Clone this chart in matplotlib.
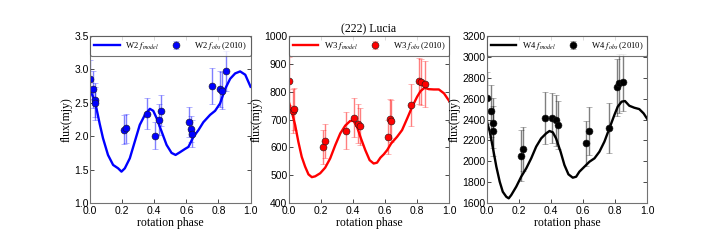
import numpy as np
import matplotlib as mpl
mpl.use('Agg')
import matplotlib.pyplot as plt

# observed points (2010)
w2_phase = [0.0, 0.021, 0.031, 0.033, 0.211, 0.226, 0.356, 0.402, 0.427, 0.444,
            0.617, 0.632, 0.633, 0.762, 0.808, 0.824, 0.849]
w2_flux = [2.85, 2.70, 2.54, 2.49, 2.10, 2.12, 2.34, 2.01, 2.25, 2.38,
           2.21, 2.11, 2.04, 2.75, 2.71, 2.68, 2.98]
w2_err = [0.29, 0.28, 0.25, 0.25, 0.22, 0.22, 0.23, 0.20, 0.23, 0.23,
          0.22, 0.20, 0.20, 0.27, 0.27, 0.28, 0.30]

w3_phase = [0.0, 0.029, 0.035, 0.212, 0.229, 0.354, 0.404, 0.429, 0.444,
            0.619, 0.631, 0.634, 0.762, 0.810, 0.825, 0.850]
w3_flux = [838, 731, 738, 601, 623, 660, 707, 684, 675,
           637, 703, 695, 752, 838, 835, 828]
w3_err = [87, 78, 76, 60, 62, 66, 70, 70, 67,
          60, 70, 75, 74, 84, 82, 82]

w4_phase = [0.0, 0.029, 0.037, 0.042, 0.215, 0.229, 0.360, 0.406, 0.430, 0.445,
            0.621, 0.635, 0.762, 0.810, 0.824, 0.849]
w4_flux = [2609, 2481, 2291, 2364, 2053, 2117, 2417, 2411, 2392, 2347,
           2171, 2289, 2318, 2708, 2746, 2756]
w4_err = [250, 250, 240, 240, 246, 214, 249, 239, 242, 233,
          218, 227, 237, 276, 279, 274]

# model curves
w2_mphase = [0.0, 0.019, 0.04, 0.06, 0.081, 0.112, 0.144, 0.175, 0.196, 0.217,
             0.248, 0.279, 0.31, 0.342, 0.373, 0.394, 0.415, 0.446, 0.477, 0.508,
             0.533, 0.56, 0.592, 0.613, 0.644, 0.675, 0.706, 0.748, 0.779, 0.81,
             0.842, 0.873, 0.904, 0.935, 0.967, 1.0]
w2_model = [2.69, 2.59, 2.42, 2.19, 1.97, 1.72, 1.57, 1.52, 1.47, 1.52,
            1.67, 1.92, 2.17, 2.32, 2.41, 2.38, 2.27, 2.07, 1.87, 1.75,
            1.72, 1.76, 1.81, 1.84, 1.99, 2.09, 2.21, 2.32, 2.38, 2.49,
            2.71, 2.86, 2.94, 2.97, 2.92, 2.74]

w3_mphase = [0.0, 0.019, 0.04, 0.06, 0.081, 0.102, 0.123, 0.144, 0.165, 0.196,
             0.227, 0.258, 0.29, 0.321, 0.352, 0.383, 0.404, 0.425, 0.45, 0.477,
             0.504, 0.529, 0.55, 0.571, 0.592, 0.613, 0.638, 0.675, 0.706, 0.738,
             0.769, 0.8, 0.821, 0.846, 0.873, 0.904, 0.935, 0.967, 1.0]
w3_model = [764, 728, 680, 620, 566, 531, 503, 493, 496, 507,
            527, 560, 608, 650, 678, 695, 695, 674, 632, 590,
            554, 542, 545, 563, 575, 590, 614, 638, 662, 704,
            746, 782, 802, 814, 809, 808, 808, 794, 766]

w4_mphase = [0.0, 0.019, 0.039, 0.06, 0.081, 0.10, 0.122, 0.137, 0.153, 0.184,
             0.215, 0.246, 0.277, 0.308, 0.339, 0.37, 0.391, 0.412, 0.432, 0.46,
             0.484, 0.509, 0.536, 0.557, 0.577, 0.598, 0.619, 0.64, 0.671, 0.702,
             0.733, 0.764, 0.795, 0.816, 0.84, 0.861, 0.888, 0.919, 0.95, 0.977, 1.0]
w4_model = [2386, 2283, 2124, 1948, 1804, 1708, 1660, 1645, 1677, 1757,
            1853, 1932, 2028, 2140, 2219, 2267, 2290, 2277, 2219, 2092,
            1964, 1875, 1843, 1852, 1900, 1932, 1964, 1996, 2028, 2092,
            2188, 2315, 2443, 2523, 2571, 2577, 2532, 2513, 2500, 2459, 2405]

plt.rcParams['mathtext.fontset'] = 'stix'

serif = 'Liberation Serif'
sans = 'Liberation Sans'

panels = [
    ("W2", 'blue', w2_mphase, w2_model, w2_phase, w2_flux, w2_err, (1.0, 3.5), np.arange(1.0, 3.51, 0.5), "%.1f"),
    ("W3", 'red', w3_mphase, w3_model, w3_phase, w3_flux, w3_err, (400, 1000), np.arange(400, 1001, 100), "%d"),
    ("W4", 'black', w4_mphase, w4_model, w4_phase, w4_flux, w4_err, (1600, 3200), np.arange(1600, 3201, 200), "%d"),
]

fig = plt.figure(figsize=(7.2, 2.4), dpi=100)
lefts = [0.125, 0.401, 0.676]

for i, (band, col, mph, mod, ph, fl, er, ylim, yt, fmt) in enumerate(panels):
    ax = fig.add_axes([lefts[i], 0.154, 0.223, 0.696])
    ax.plot(mph, mod, color=col, lw=1.7, label=band + r" $f_{model}$")
    eb = ax.errorbar(ph, fl, yerr=er, fmt='o', color=col, ms=5, mec='0.1', mew=0.4,
                     ecolor=col, elinewidth=1.0, capsize=2, capthick=0.9,
                     label=band + r" $f_{obs}$ (2010)")
    for c in eb[1] + eb[2]:
        c.set_alpha(0.5)
    ax.set_xlim(0, 1)
    ax.set_ylim(*ylim)
    xt = np.arange(0, 1.01, 0.2)
    ax.set_xticks(xt)
    ax.set_yticks(yt)
    ax.set_xticklabels(["%.1f" % v for v in xt], family=sans)
    ax.set_yticklabels([fmt % v for v in yt], family=sans)
    ax.tick_params(direction='in', top=True, right=True, labelsize=7.5, length=3, width=0.5)
    ax.tick_params(axis='x', pad=2)
    ax.tick_params(axis='y', pad=1)
    for s in ax.spines.values():
        s.set_color('0.45')
        s.set_linewidth(0.8)
    ax.set_xlabel("rotation phase", family=serif, fontsize=8.5, labelpad=1)
    ax.set_ylabel("flux(mjy)", family=serif, fontsize=8.5, labelpad=1)
    leg = ax.legend(loc='lower left', bbox_to_anchor=(0, 0.88, 1, 0.12), mode='expand',
                    ncol=2, numpoints=1, prop={'family': serif, 'size': 6.2},
                    borderaxespad=0, handlelength=3, fancybox=True, borderpad=0.45,
                    handletextpad=0.6, columnspacing=1.0)
    leg.get_frame().set_edgecolor('0.3')
    leg.get_frame().set_linewidth(0.8)
    if i == 1:
        ax.set_title("(222) Lucia", family=serif, fontsize=8.5, pad=3)

fig.savefig("out.png", dpi=100)
